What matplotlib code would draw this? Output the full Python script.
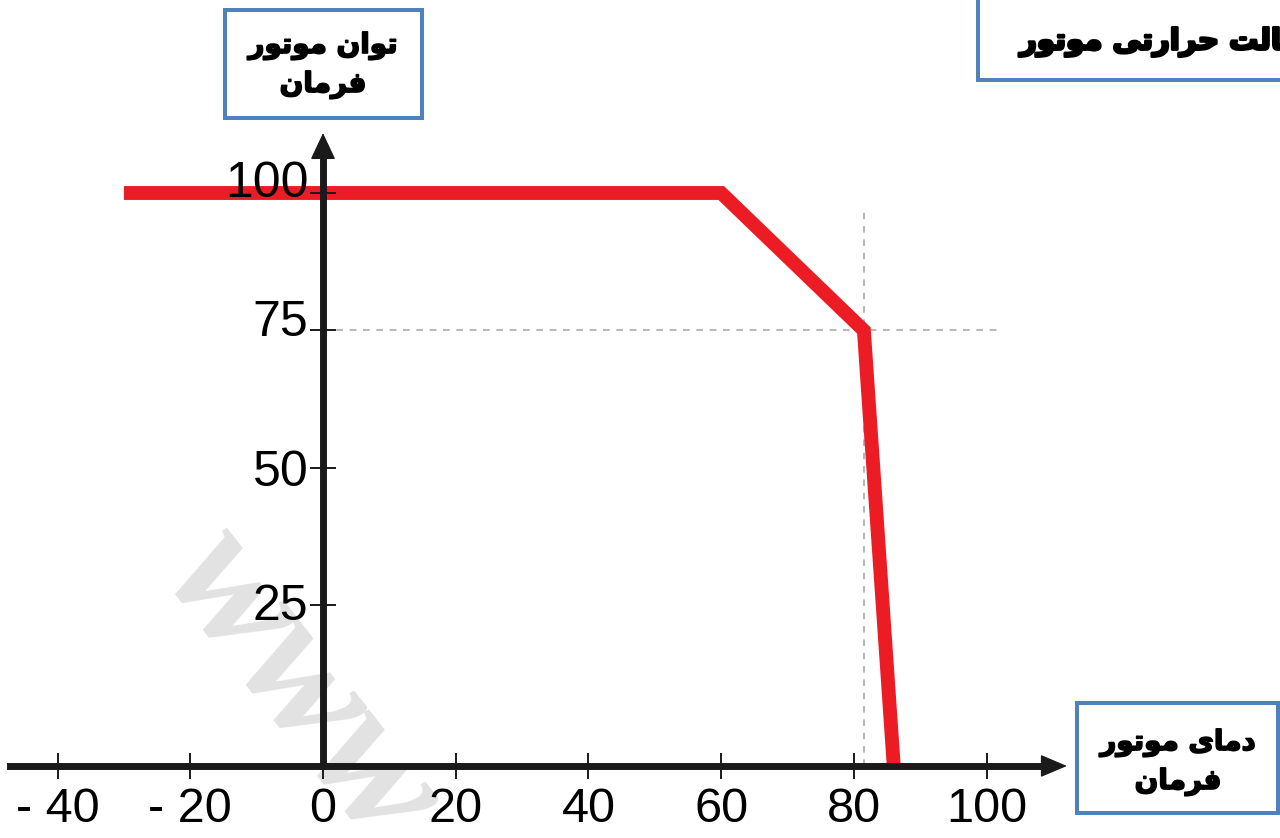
import matplotlib
matplotlib.use('Agg')
import matplotlib.pyplot as plt
import matplotlib.transforms as mtransforms
import matplotlib.patheffects as pe
from matplotlib.patches import Rectangle

# derating curve: motor power (%) against motor temperature
temp = [-30, 60, 81.5, 86]
power = [100, 100, 75, -4.2]
floor = -4.2          # level where the temperature axis sits

knee_t, knee_p = 81.5, 75

xticks = [-40, -20, 0, 20, 40, 60, 80, 100]
xlabels = ['- 40', '- 20', '0', '20', '40', '60', '80', '100']
yticks = [25, 50, 75, 100]
ylabels = ['25', '50', '75', '100']
ylabel_lift = [3, 0, 12, 14]   # px

power_title = 'توان موتور'
temp_title = 'دمای موتور'
sub_title = 'فرمان'
chart_title = 'حالت حرارتی موتور'

# contextual forms (isolated, final, initial, medial) for the letters used
FORMS = {
    'ا': ('\uFE8D', '\uFE8E', None, None),
    'ت': ('\uFE95', '\uFE96', '\uFE97', '\uFE98'),
    'ح': ('\uFEA1', '\uFEA2', '\uFEA3', '\uFEA4'),
    'د': ('\uFEA9', '\uFEAA', None, None),
    'ر': ('\uFEAD', '\uFEAE', None, None),
    'ف': ('\uFED1', '\uFED2', '\uFED3', '\uFED4'),
    'ل': ('\uFEDD', '\uFEDE', '\uFEDF', '\uFEE0'),
    'م': ('\uFEE1', '\uFEE2', '\uFEE3', '\uFEE4'),
    'ن': ('\uFEE5', '\uFEE6', '\uFEE7', '\uFEE8'),
    'و': ('\uFEED', '\uFEEE', None, None),
    'ی': ('\uFBFC', '\uFBFD', '\uFBFE', '\uFBFF'),
}


def shape(text):
    out = []
    for i, ch in enumerate(text):
        if ch not in FORMS:
            out.append(ch)
            continue
        prev = text[i - 1] if i > 0 else ''
        nxt = text[i + 1] if i + 1 < len(text) else ''
        iso, fin, ini, med = FORMS[ch]
        join_prev = prev in FORMS and FORMS[prev][2] is not None
        join_next = ini is not None and nxt in FORMS
        if join_prev and join_next:
            out.append(med)
        elif join_prev:
            out.append(fin)
        elif join_next:
            out.append(ini)
        else:
            out.append(iso)
    return ''.join(reversed(out))


fig = plt.figure(figsize=(12.8, 8.38), dpi=100)
ax = fig.add_axes([0, 0, 1, 1])
ax.set_xlim(-48.67, 144.2)
ax.set_ylim(-17.3, 135.1)
ax.set_axisbelow(False)

axis_col = '#1a1a1a'
for s in ['top', 'right']:
    ax.spines[s].set_visible(False)
ax.spines['left'].set_position(('data', 0))
ax.spines['bottom'].set_position(('data', floor))
ax.spines['left'].set_bounds(floor, 107)
ax.spines['bottom'].set_bounds(-47.2, 108.5)
for s in ['left', 'bottom']:
    ax.spines[s].set_linewidth(5)
    ax.spines[s].set_color(axis_col)

# arrow heads
ax.annotate('', xy=(112.1, floor), xytext=(108.4, floor),
            arrowprops=dict(arrowstyle='-|>,head_length=17,head_width=7.2',
                            mutation_scale=1, color=axis_col, lw=1,
                            shrinkA=0, shrinkB=0), annotation_clip=False)
ax.annotate('', xy=(0, 110.9), xytext=(0, 106.6),
            arrowprops=dict(arrowstyle='-|>,head_length=17,head_width=8',
                            mutation_scale=1, color=axis_col, lw=1,
                            shrinkA=0, shrinkB=0), annotation_clip=False)

ax.set_xticks(xticks, xlabels)
ax.set_yticks(yticks, ylabels)
ax.tick_params(axis='both', direction='inout', length=19, width=1.4, colors=axis_col)
ax.tick_params(axis='x', pad=6)
ax.tick_params(axis='y', pad=1)
for lab in ax.get_xticklabels():
    lab.set_family('Liberation Sans')
    lab.set_fontsize(35)
    lab.set_color('black')
for lab, lift in zip(ax.get_yticklabels(), ylabel_lift):
    lab.set_family('Liberation Sans')
    lab.set_fontsize(36)
    lab.set_color('black')
    lab.set_transform(lab.get_transform() +
                      mtransforms.ScaledTranslation(0, lift / 100, fig.dpi_scale_trans))

# guide lines through the knee
ax.plot([0, 102.3], [knee_p, knee_p], color='#aaaaaa', lw=1.2, dashes=(4, 4), zorder=1)
ax.plot([knee_t, knee_t], [floor, 97.3], color='#aaaaaa', lw=1.2, dashes=(4, 4), zorder=1)

ax.plot(temp, power, color='#ec1c24', lw=10, solid_joinstyle='miter',
        solid_capstyle='butt', zorder=2)

# faint watermark
ax.text(0.236, 0.18, 'www', transform=fig.transFigure, rotation=-52,
        rotation_mode='anchor', ha='center', va='center', fontsize=125,
        family='Liberation Serif', weight='bold', style='italic',
        color='#e2e2e2', zorder=0.5, clip_on=False)

# label boxes
box_col = '#4f81bd'
W, H = 1280, 838


def box(x0, y0, x1, y1):
    fig.add_artist(Rectangle((x0 / W, 1 - y1 / H), (x1 - x0) / W, (y1 - y0) / H,
                             transform=fig.transFigure, facecolor='white',
                             edgecolor=box_col, lw=2.9, zorder=2))


box(225, 10, 422, 118)
box(978, -20, 1320, 80)
box(1077, 703, 1278, 813)

heavy = [pe.withStroke(linewidth=1.2, foreground='black')]
txt = dict(family='DejaVu Sans', weight='bold', color='black', zorder=3,
           ha='center', va='center', path_effects=heavy)
fig.text(323 / W, 1 - 46 / H, shape(power_title), fontsize=20, **txt)
fig.text(323 / W, 1 - 85 / H, shape(sub_title), fontsize=20, **txt)
fig.text(1178 / W, 1 - 743 / H, shape(temp_title), fontsize=20, **txt)
fig.text(1178 / W, 1 - 782 / H, shape(sub_title), fontsize=20, **txt)
fig.text(1020 / W, 1 - 42 / H, shape(chart_title), fontsize=21,
         **{**txt, 'ha': 'left',
            'path_effects': [pe.withStroke(linewidth=2, foreground='black')]})

fig.savefig('out.png', dpi=100)
